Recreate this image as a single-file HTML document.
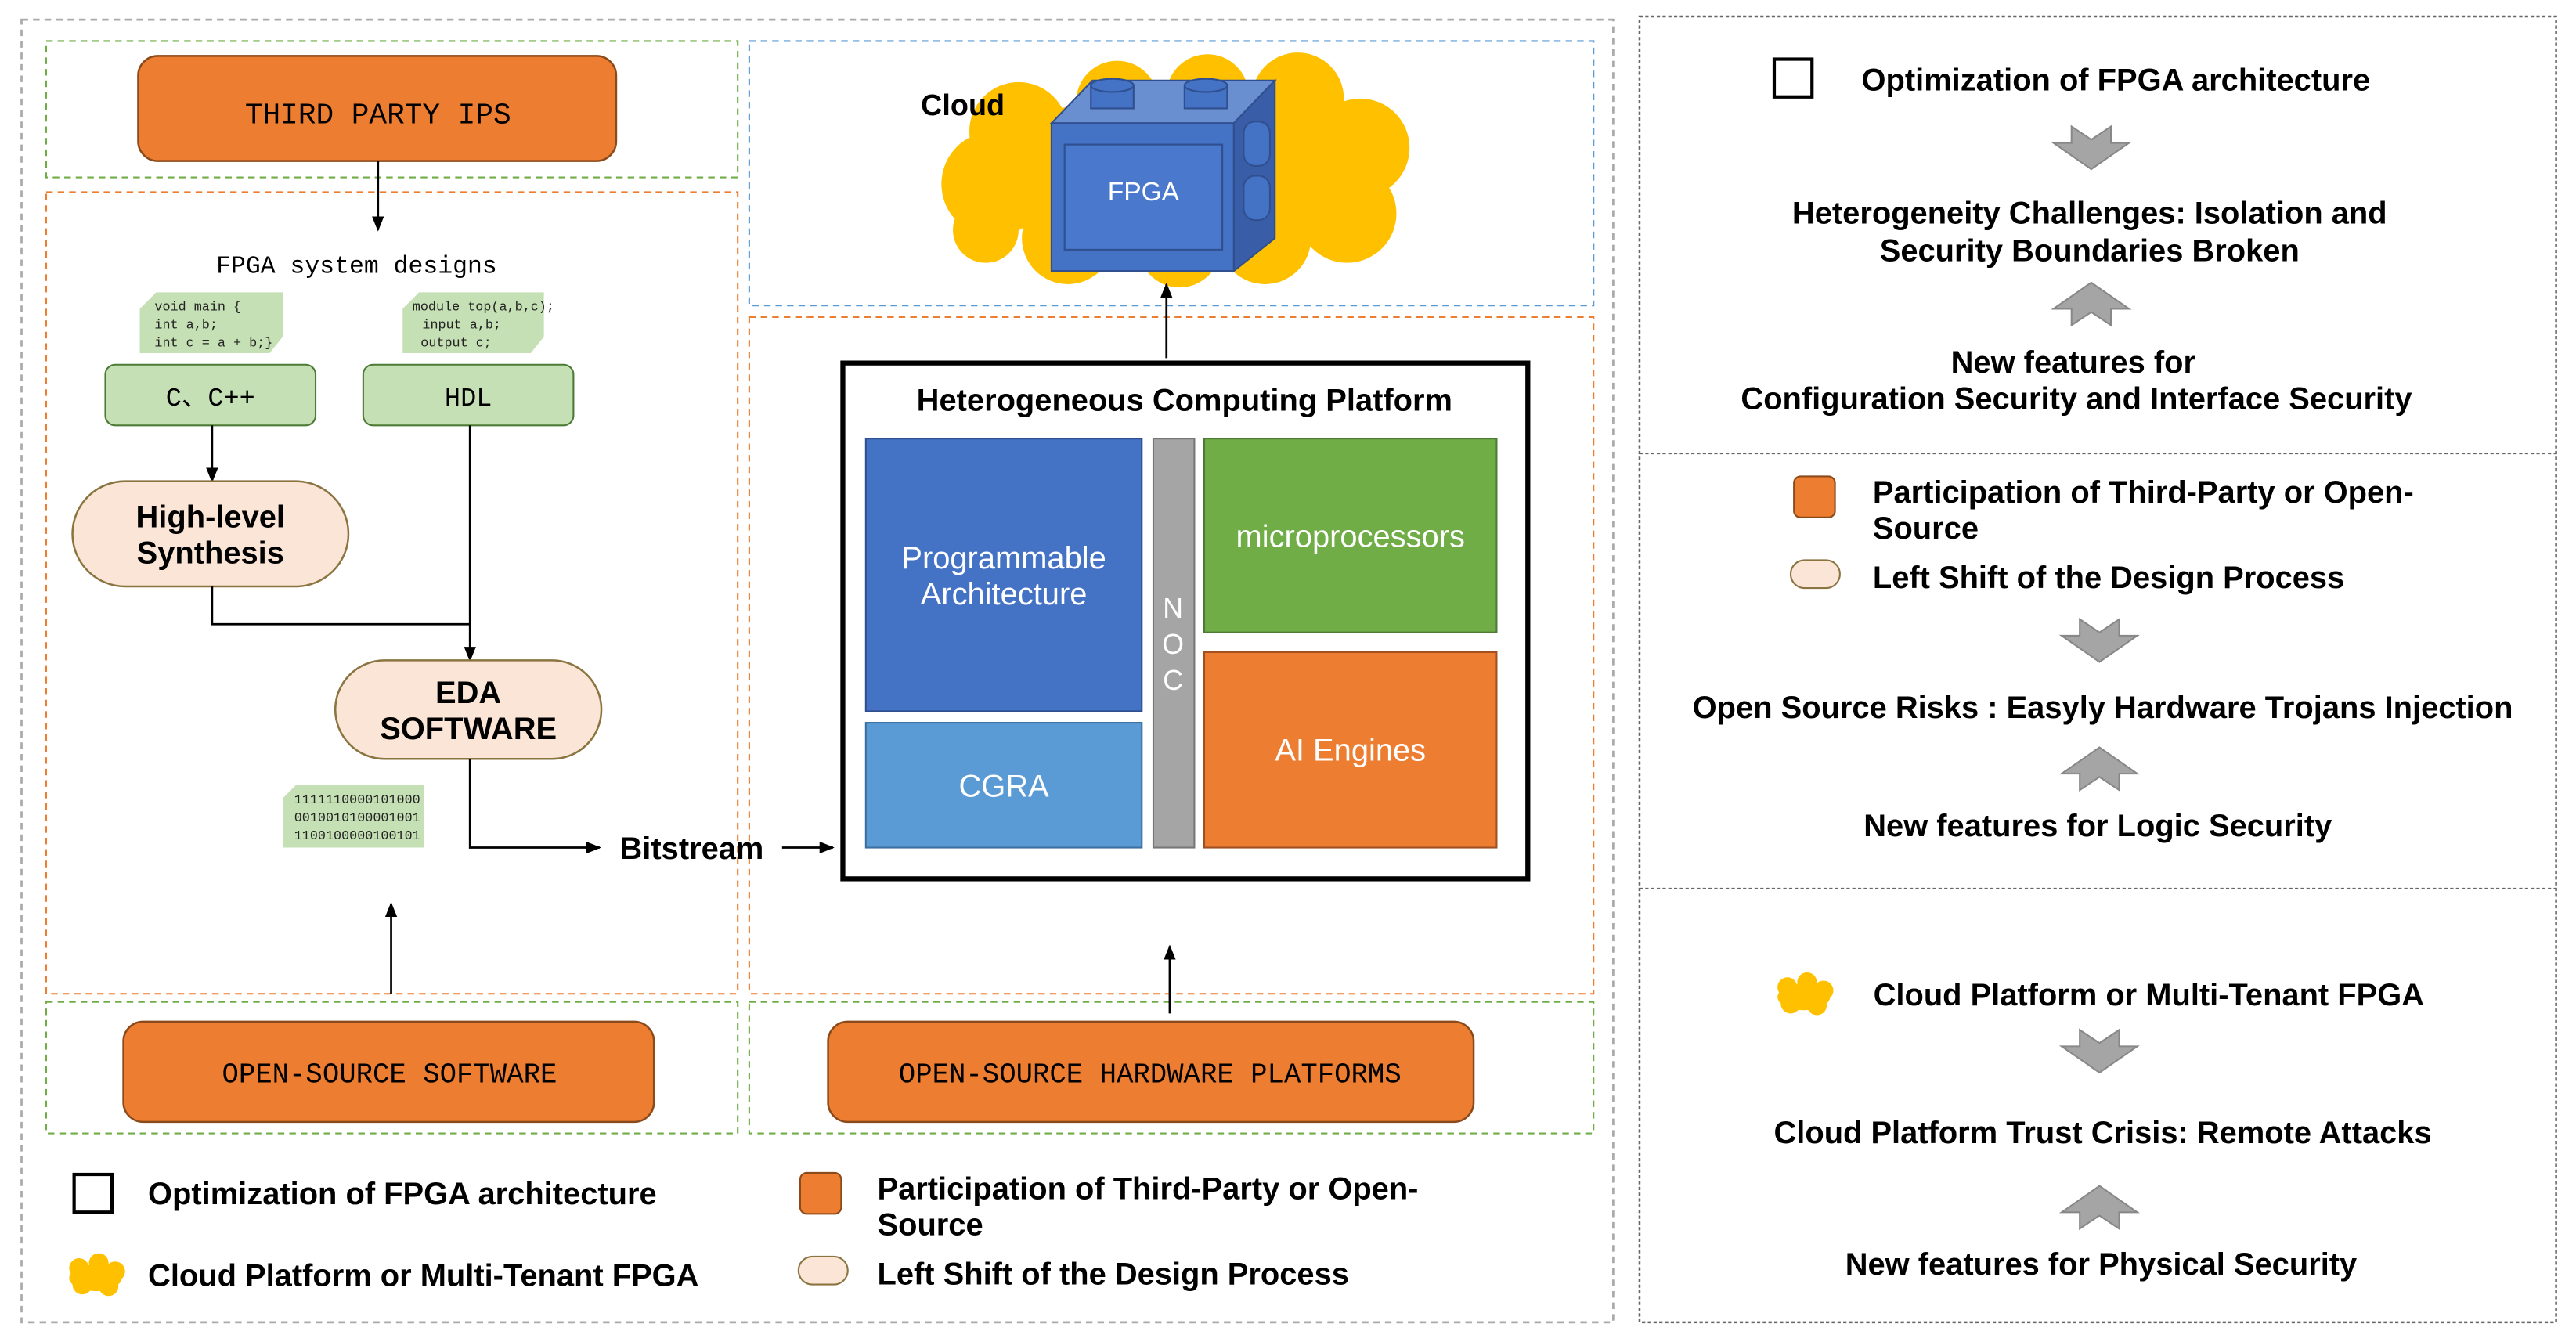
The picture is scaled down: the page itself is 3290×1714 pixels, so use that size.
<!DOCTYPE html>
<html><head><meta charset="utf-8"><style>html,body{margin:0;padding:0;background:#fff}svg{display:block}</style></head>
<body>
<svg xmlns="http://www.w3.org/2000/svg" width="3290" height="1714" viewBox="0 0 1568 817">
<defs>
<marker id="ah" viewBox="0 0 10 10" refX="9" refY="5" markerWidth="7" markerHeight="7" orient="auto"><path d="M0,1 L10,5 L0,9 z" fill="#000"/></marker>
</defs>
<rect width="1568" height="817" fill="#fff"/>
<g font-family="Liberation Sans, sans-serif">
<!-- outer left gray -->
<rect x="13" y="12" width="969" height="793" fill="none" stroke="#aaa" stroke-width="1.3" stroke-dasharray="4,3"/>
<!-- section boxes -->
<rect x="28" y="25" width="421" height="83" fill="none" stroke="#70AD47" stroke-dasharray="4,3"/>
<rect x="28" y="117" width="421" height="488" fill="none" stroke="#ED7D31" stroke-dasharray="4,3"/>
<rect x="28" y="610" width="421" height="80" fill="none" stroke="#70AD47" stroke-dasharray="4,3"/>
<rect x="456" y="25" width="514" height="161" fill="none" stroke="#5B9BD5" stroke-dasharray="4,3"/>
<rect x="456" y="193" width="514" height="412" fill="none" stroke="#ED7D31" stroke-dasharray="4,3"/>
<rect x="456" y="610" width="514" height="80" fill="none" stroke="#70AD47" stroke-dasharray="4,3"/>

<!-- third party -->
<rect x="84" y="34" width="291" height="64" rx="12" fill="#ED7D31" stroke="#8a4a1a" stroke-width="1.2"/>
<text x="230" y="75" font-family="Liberation Mono, monospace" font-size="18" text-anchor="middle">THIRD PARTY IPS</text>
<line x1="230" y1="98" x2="230" y2="140" stroke="#000" stroke-width="1.3" marker-end="url(#ah)"/>
<text x="217" y="166" font-family="Liberation Mono, monospace" font-size="15" text-anchor="middle">FPGA system designs</text>
<!-- code notes -->
<polygon points="95,178 172,178 172,205 164,215 85,215 85,188" fill="#C5E0B4"/>
<text font-family="Liberation Mono, monospace" font-size="8" fill="#222"><tspan x="94" y="189">void main {</tspan><tspan x="94" y="200">int a,b;</tspan><tspan x="94" y="211">int c = a + b;}</tspan></text>
<polygon points="255,178 331,178 331,205 323,215 245,215 245,188" fill="#C5E0B4"/>
<text font-family="Liberation Mono, monospace" font-size="8" fill="#222"><tspan x="251" y="189">module top(a,b,c);</tspan><tspan x="257" y="200">input a,b;</tspan><tspan x="256" y="211">output c;</tspan></text>
<rect x="64" y="222" width="128" height="37" rx="6" fill="#C5E0B4" stroke="#4d7a35"/>
<text x="128" y="247" font-family="Liberation Mono, monospace" font-size="16" text-anchor="middle">C、C++</text>
<rect x="221" y="222" width="128" height="37" rx="6" fill="#C5E0B4" stroke="#4d7a35"/>
<text x="285" y="247" font-family="Liberation Mono, monospace" font-size="16" text-anchor="middle">HDL</text>
<line x1="129" y1="259" x2="129" y2="293" stroke="#000" stroke-width="1.3" marker-end="url(#ah)"/>
<rect x="44" y="293" width="168" height="64" rx="32" fill="#FBE5D6" stroke="#8a7440" stroke-width="1.2"/>
<text x="128" y="321" font-size="19" font-weight="bold" text-anchor="middle">High-level</text>
<text x="128" y="343" font-size="19" font-weight="bold" text-anchor="middle">Synthesis</text>
<polyline points="129,357 129,380 286,380" fill="none" stroke="#000" stroke-width="1.3"/>
<line x1="286" y1="259" x2="286" y2="402" stroke="#000" stroke-width="1.3" marker-end="url(#ah)"/>
<rect x="204" y="402" width="162" height="60" rx="30" fill="#FBE5D6" stroke="#8a7440" stroke-width="1.2"/>
<text x="285" y="428" font-size="19" font-weight="bold" text-anchor="middle">EDA</text>
<text x="285" y="450" font-size="19" font-weight="bold" text-anchor="middle">SOFTWARE</text>
<polygon points="180,478 258,478 258,516 172,516 172,486" fill="#C5E0B4"/>
<text font-family="Liberation Mono, monospace" font-size="8" fill="#222"><tspan x="179" y="489">1111110000101000</tspan><tspan x="179" y="500">0010010100001001</tspan><tspan x="179" y="511">1100100000100101</tspan></text>
<polyline points="286,462 286,516 365,516" fill="none" stroke="#000" stroke-width="1.3" marker-end="url(#ah)"/>
<text x="421" y="523" font-size="19" font-weight="bold" text-anchor="middle">Bitstream</text>
<line x1="476" y1="516" x2="507" y2="516" stroke="#000" stroke-width="1.3" marker-end="url(#ah)"/>
<line x1="238" y1="605" x2="238" y2="550" stroke="#000" stroke-width="1.3" marker-end="url(#ah)"/>
<rect x="75" y="622" width="323" height="61" rx="12" fill="#ED7D31" stroke="#8a4a1a" stroke-width="1.2"/>
<text x="237" y="659" font-family="Liberation Mono, monospace" font-size="17" text-anchor="middle">OPEN-SOURCE SOFTWARE</text>

<!-- cloud -->
<g fill="#FFC000">
<ellipse cx="712" cy="105" rx="135" ry="45"/>
<circle cx="605" cy="112" r="32"/><circle cx="620" cy="80" r="30"/><circle cx="680" cy="62" r="25"/>
<circle cx="735" cy="58" r="25"/><circle cx="790" cy="60" r="28"/><circle cx="828" cy="90" r="30"/>
<circle cx="820" cy="130" r="30"/><circle cx="770" cy="145" r="28"/><circle cx="718" cy="150" r="25"/>
<circle cx="650" cy="145" r="28"/><circle cx="600" cy="140" r="20"/>
</g>
<text x="586" y="70" font-size="18" font-weight="bold" text-anchor="middle">Cloud</text>
<!-- cube -->
<polygon points="640,75 665,49 776,49 751,75" fill="#6A8FD0" stroke="#2F4F8F"/>
<polygon points="751,75 776,49 776,145 751,165" fill="#3A5DA8" stroke="#2F4F8F"/>
<rect x="640" y="75" width="111" height="90" fill="#4472C4" stroke="#2F4F8F"/>
<rect x="648" y="88" width="96" height="64" fill="#4A78CC" stroke="#2F4F8F"/>
<text x="696" y="122" font-size="16" fill="#fff" text-anchor="middle">FPGA</text>
<rect x="664" y="52" width="26" height="14" fill="#4472C4" stroke="#2F4F8F"/><ellipse cx="677" cy="52" rx="13" ry="4" fill="#4472C4" stroke="#2F4F8F"/>
<rect x="721" y="52" width="26" height="14" fill="#4472C4" stroke="#2F4F8F"/><ellipse cx="734" cy="52" rx="13" ry="4" fill="#4472C4" stroke="#2F4F8F"/>
<rect x="757" y="74" width="16" height="27" rx="7" fill="#4472C4" stroke="#2F4F8F"/>
<rect x="757" y="107" width="16" height="27" rx="7" fill="#4472C4" stroke="#2F4F8F"/>
<line x1="710" y1="218" x2="710" y2="173" stroke="#000" stroke-width="1.3" marker-end="url(#ah)"/>

<!-- HCP -->
<rect x="513" y="221" width="417" height="314" fill="#fff" stroke="#000" stroke-width="3"/>
<text x="721" y="250" font-size="19" font-weight="bold" text-anchor="middle">Heterogeneous Computing Platform</text>
<rect x="527" y="267" width="168" height="166" fill="#4472C4" stroke="#2F4F8F"/>
<text x="611" y="346" font-size="19" fill="#fff" text-anchor="middle">Programmable</text>
<text x="611" y="368" font-size="19" fill="#fff" text-anchor="middle">Architecture</text>
<rect x="527" y="440" width="168" height="76" fill="#5B9BD5" stroke="#3a6fa0"/>
<text x="611" y="485" font-size="19" fill="#fff" text-anchor="middle">CGRA</text>
<rect x="702" y="267" width="25" height="249" fill="#A5A5A5" stroke="#777"/>
<text font-size="17" fill="#fff" text-anchor="middle"><tspan x="714" y="376">N</tspan><tspan x="714" y="398">O</tspan><tspan x="714" y="420">C</tspan></text>
<rect x="733" y="267" width="178" height="118" fill="#70AD47" stroke="#4d7a35"/>
<text x="822" y="333" font-size="19" fill="#fff" text-anchor="middle">microprocessors</text>
<rect x="733" y="397" width="178" height="119" fill="#ED7D31" stroke="#a05020"/>
<text x="822" y="463" font-size="19" fill="#fff" text-anchor="middle">AI Engines</text>
<line x1="712" y1="617" x2="712" y2="576" stroke="#000" stroke-width="1.3" marker-end="url(#ah)"/>
<rect x="504" y="622" width="393" height="61" rx="12" fill="#ED7D31" stroke="#8a4a1a" stroke-width="1.2"/>
<text x="700" y="659" font-family="Liberation Mono, monospace" font-size="17" text-anchor="middle">OPEN-SOURCE HARDWARE PLATFORMS</text>

<!-- bottom legend -->
<rect x="45" y="715" width="23" height="23" fill="none" stroke="#000" stroke-width="2"/>
<text x="90" y="733" font-size="19" font-weight="bold">Optimization of FPGA architecture</text>
<g fill="#FFC000"><ellipse cx="58" cy="778" rx="16" ry="8"/><circle cx="48" cy="772" r="6"/><circle cx="60" cy="769" r="6"/><circle cx="70" cy="774" r="6"/><circle cx="50" cy="782" r="6"/><circle cx="66" cy="783" r="6"/></g>
<text x="90" y="783" font-size="19" font-weight="bold">Cloud Platform or Multi-Tenant FPGA</text>
<rect x="487" y="714" width="25" height="25" rx="4" fill="#ED7D31" stroke="#8a4a1a"/>
<text x="534" y="730" font-size="19" font-weight="bold">Participation of Third-Party or Open-</text>
<text x="534" y="752" font-size="19" font-weight="bold">Source</text>
<rect x="486" y="765" width="30" height="17" rx="8.5" fill="#FBE5D6" stroke="#8a7440"/>
<text x="534" y="782" font-size="19" font-weight="bold">Left Shift of the Design Process</text>

<!-- right panel -->
<rect x="998" y="10" width="558" height="795" fill="none" stroke="#666" stroke-width="1.2" stroke-dasharray="2,1.5"/>
<line x1="998" y1="276" x2="1556" y2="276" stroke="#666" stroke-dasharray="2,1.5"/>
<line x1="998" y1="541" x2="1556" y2="541" stroke="#666" stroke-dasharray="2,1.5"/>
<g font-size="19" font-weight="bold" text-anchor="middle">
<rect x="1080" y="36" width="23" height="23" fill="none" stroke="#000" stroke-width="2"/>
<text x="1288" y="55" text-anchor="middle">Optimization of FPGA architecture</text>
<text x="1272" y="136">Heterogeneity Challenges:   Isolation and</text>
<text x="1272" y="159">Security Boundaries Broken</text>
<text x="1262" y="227">New features for</text>
<text x="1264" y="249">Configuration Security and Interface Security</text>
<rect x="1092" y="290" width="25" height="25" rx="4" fill="#ED7D31" stroke="#8a4a1a"/>
<text x="1140" y="306" text-anchor="start">Participation of Third-Party or Open-</text>
<text x="1140" y="328" text-anchor="start">Source</text>
<rect x="1090" y="341" width="30" height="17" rx="8.5" fill="#FBE5D6" stroke="#8a7440"/>
<text x="1140" y="358" text-anchor="start">Left Shift of the Design Process</text>
<text x="1280" y="437">Open Source Risks :   Easyly Hardware Trojans Injection</text>
<text x="1277" y="509">New features for Logic Security</text>
<g fill="#FFC000"><ellipse cx="1098" cy="607" rx="16" ry="8"/><circle cx="1088" cy="601" r="6"/><circle cx="1100" cy="598" r="6"/><circle cx="1110" cy="603" r="6"/><circle cx="1090" cy="611" r="6"/><circle cx="1106" cy="612" r="6"/></g>
<text x="1308" y="612">Cloud Platform or Multi-Tenant FPGA</text>
<text x="1280" y="696">Cloud Platform Trust Crisis:   Remote Attacks</text>
<text x="1279" y="776">New features for Physical Security</text>
</g>
<g fill="#A5A5A5" stroke="#888">
<polygon points="1261,77 1273,85 1285,77 1285,87 1296,87 1273,103 1250,87 1261,87"/>
<polygon points="1261,198 1273,190 1285,198 1285,188 1296,188 1273,172 1250,188 1261,188"/>
<polygon points="1266,377 1278,385 1290,377 1290,387 1301,387 1278,403 1255,387 1266,387"/>
<polygon points="1266,481 1278,473 1290,481 1290,471 1301,471 1278,455 1255,471 1266,471"/>
<polygon points="1266,627 1278,635 1290,627 1290,637 1301,637 1278,653 1255,637 1266,637"/>
<polygon points="1266,748 1278,740 1290,748 1290,738 1301,738 1278,722 1255,738 1266,738"/>
</g>
</g>
</svg>
</body></html>
